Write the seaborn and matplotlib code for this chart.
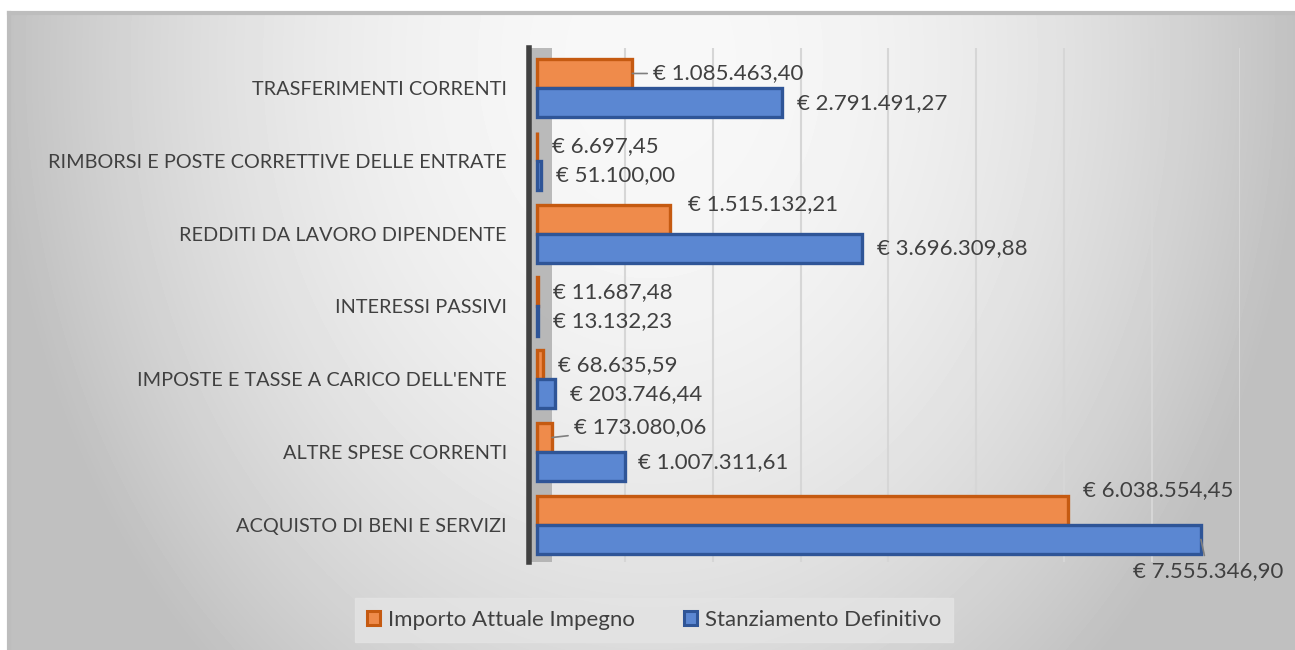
import numpy as np
import pandas as pd
import matplotlib
matplotlib.use("Agg")
import matplotlib.pyplot as plt
import matplotlib.patches as mpatches
import seaborn as sns

# ── data ──
categories = [
    "TRASFERIMENTI CORRENTI",
    "RIMBORSI E POSTE CORRETTIVE DELLE ENTRATE",
    "REDDITI DA LAVORO DIPENDENTE",
    "INTERESSI PASSIVI",
    "IMPOSTE E TASSE A CARICO DELL'ENTE",
    "ALTRE SPESE CORRENTI",
    "ACQUISTO DI BENI E SERVIZI",
]
series_names = ["Importo Attuale Impegno", "Stanziamento Definitivo"]
impegno = [1085463.40, 6697.45, 1515132.21, 11687.48, 68635.59, 173080.06, 6038554.45]
stanziamento = [2791491.27, 51100.00, 3696309.88, 13132.23, 203746.44, 1007311.61, 7555346.90]

FILL = ["#EF8B4B", "#5B87D2"]
EDGE = ["#C55A11", "#2F5597"]
TEXT = "#404040"

df = pd.DataFrame({
    "categoria": categories * 2,
    "voce": [series_names[0]] * len(categories) + [series_names[1]] * len(categories),
    "valore": impegno + stanziamento,
})


def euro(v):
    s = f"{v:,.2f}".replace(",", "X").replace(".", ",").replace("X", ".")
    return f"€ {s}"


sns.set_style("white")
plt.rcParams["font.family"] = ["Lato", "DejaVu Sans"]

W, H = 1295, 650
fig = plt.figure(figsize=(W / 100, H / 100), dpi=100)
fig.patch.set_facecolor("white")

# chart area background (radial grey gradient like the Excel style)
bg = fig.add_axes([9 / W, 0, 1 - 9 / W, 1 - 13 / H], zorder=-5)
yy, xx = np.mgrid[13:H, 9:W]
d2 = ((xx - 650) / 650) ** 2 + ((yy - 60) / 820) ** 2
shade = np.clip(248 - 56 * d2, 192, 250) / 255
bg.imshow(shade, cmap="gray", vmin=0, vmax=1, aspect="auto", interpolation="bilinear")
bg.set_xticks([])
bg.set_yticks([])
for side in ["top", "left"]:
    bg.spines[side].set_color("#bdbdbd")
    bg.spines[side].set_linewidth(3)
for side in ["right", "bottom"]:
    bg.spines[side].set_visible(False)

# plot area
ax = fig.add_axes([529 / W, 1 - 562 / H, (1240 - 529) / W, (562 - 48) / H])
ax.patch.set_alpha(0)

sns.barplot(
    data=df, y="categoria", x="valore", hue="voce", orient="h",
    hue_order=series_names, order=categories, saturation=1,
    palette=FILL, width=0.8, ax=ax, legend=False, zorder=3,
)

for cont, ec in zip(ax.containers, EDGE):
    for bar in cont:
        bar.set_edgecolor(ec)
        bar.set_linewidth(2.4)

ax.set_xlim(-0.09e6, 7.89e6)
ax.set_ylim(6.51, -0.55)

# left wall of the 3D chart
ax.axvspan(-0.09e6, 0.17e6, color="#a6a6a6", alpha=0.75, zorder=1, lw=0)

ax.set_xticks(np.arange(1, 9) * 1e6)
ax.xaxis.grid(True, color="#d6d6d6", lw=1.5, zorder=0)
ax.tick_params(axis="x", labelbottom=False, length=0)
ax.tick_params(axis="y", length=0, pad=16, labelsize=14.3, labelcolor=TEXT)
ax.set_xlabel("")
ax.set_ylabel("")
for side in ["top", "right", "bottom"]:
    ax.spines[side].set_visible(False)
ax.spines["left"].set_color("#404040")
ax.spines["left"].set_linewidth(4)

# value labels: (dx, dy) in pixels, leader line flag, alignment
label_style = {
    (0, 0): (21, 0, True, "left"),
    (0, 2): (18, -15, False, "left"),
    (0, 5): (22, -10, True, "left"),
    (0, 6): (15, -20, False, "left"),
    (1, 5): (13, -5, False, "left"),
    (1, 6): (7, 32, True, "center"),
}

for s, cont in enumerate(ax.containers):
    for i, bar in enumerate(cont):
        val = bar.get_width()
        yc = bar.get_y() + bar.get_height() / 2
        dx, dy, leader, ha = label_style.get((s, i), (15, 0, False, "left"))
        arrow = dict(arrowstyle="-", color="#7f7f7f", lw=1.2, shrinkA=2, shrinkB=0) if leader else None
        ax.annotate(
            euro(val), xy=(val, yc), xytext=(dx, -dy), textcoords="offset pixels",
            ha=ha, va="center", fontsize=16, color=TEXT, arrowprops=arrow, zorder=5,
        )

handles = [
    mpatches.Patch(facecolor=f, edgecolor=e, linewidth=2.2, label=n)
    for f, e, n in zip(FILL, EDGE, series_names)
]
leg = fig.legend(
    handles=handles, loc="center", bbox_to_anchor=(654 / W, 1 - 620 / H),
    ncol=2, frameon=True, fontsize=16, handlelength=0.6, handleheight=0.6,
    handletextpad=0.35, columnspacing=2.2, borderpad=0.55, fancybox=False,
    borderaxespad=0,
)
leg.get_frame().set_facecolor("#e4e4e4")
leg.get_frame().set_edgecolor("#e4e4e4")
for t in leg.get_texts():
    t.set_color(TEXT)

fig.savefig("out.png", dpi=100)
